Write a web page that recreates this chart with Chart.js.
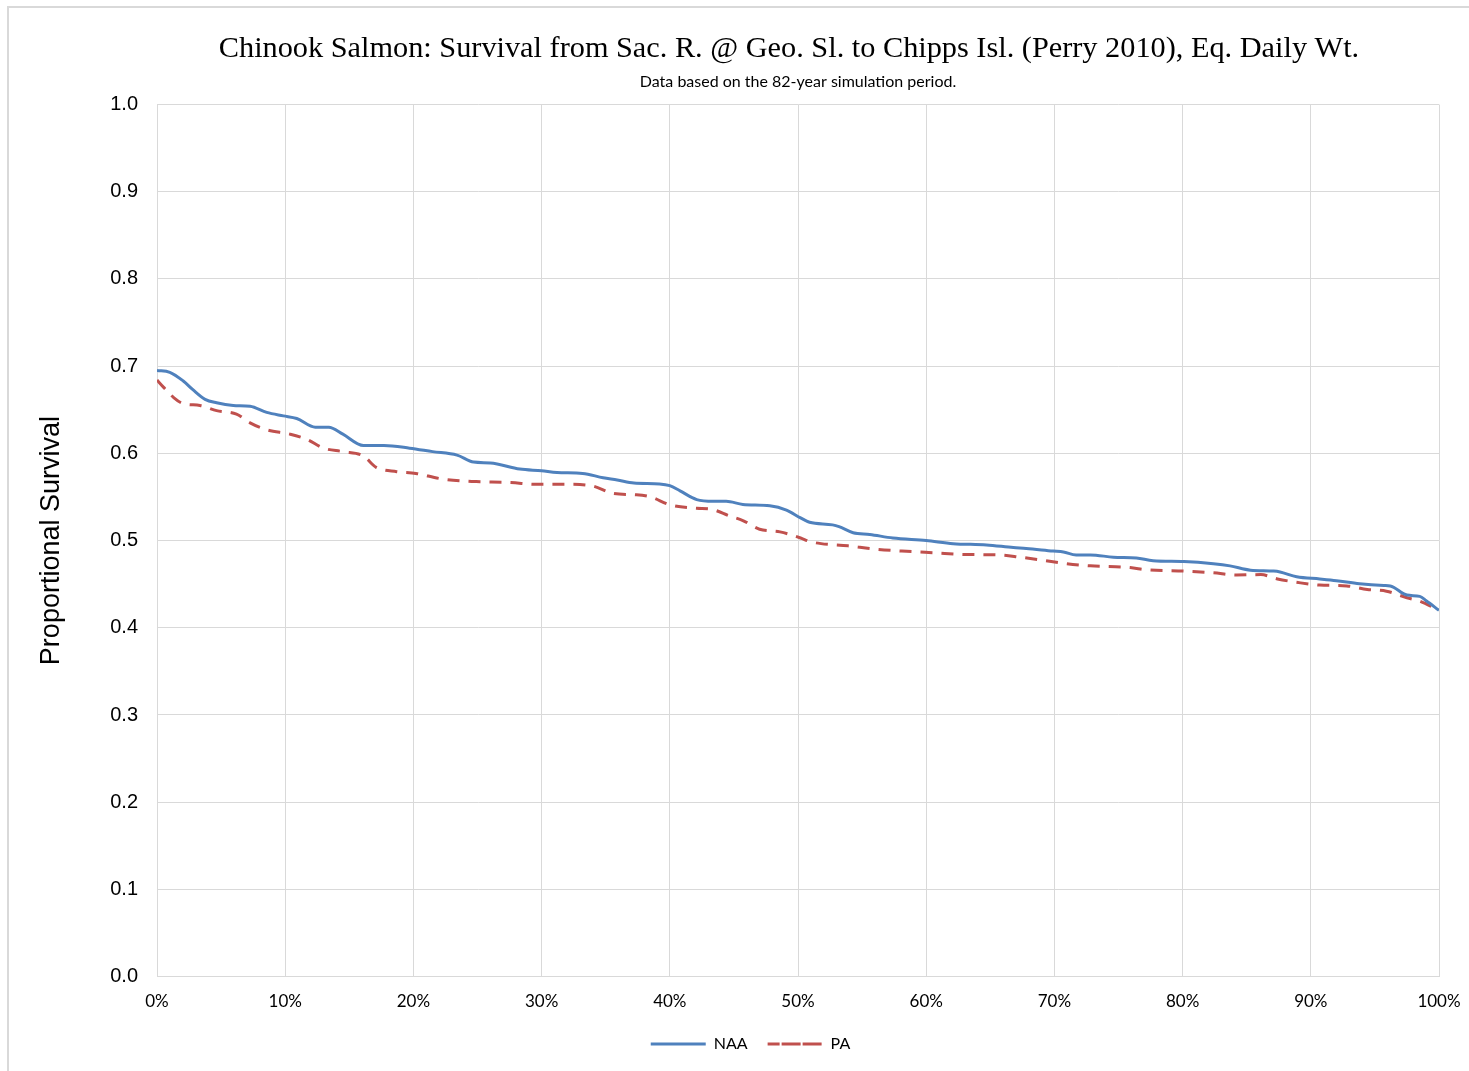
<!DOCTYPE html>
<html>
<head>
<meta charset="utf-8">
<script src="https://cdn.jsdelivr.net/npm/chart.js@4.4.1/dist/chart.umd.min.js"></script>
<style>
  html, body { margin: 0; padding: 0; background: #fff; }
  #wrap { width: 1469px; height: 1071px; }
</style>
</head>
<body>
<div id="wrap"><canvas id="c" width="1469" height="1071"></canvas></div>
<script>
const titleText = "Chinook Salmon: Survival from Sac. R. @ Geo. Sl. to Chipps Isl. (Perry 2010), Eq. Daily Wt.";
const subtitleText = "Data based on the 82-year simulation period.";
const seriesNames = ["NAA", "PA"];
const yAxisTitle = "Proportional Survival";
const xTicks = [0, 10, 20, 30, 40, 50, 60, 70, 80, 90, 100];
const yTicks = [0.0, 0.1, 0.2, 0.3, 0.4, 0.5, 0.6, 0.7, 0.8, 0.9, 1.0];

// exceedance probability (%) and survival
const naaX = [0, 1.0, 2.05, 2.8, 3.75, 4.65, 5.95, 7.26, 8.56, 9.86, 10.9, 12.35, 13.4, 14.5, 16.1, 17.7, 19.7, 21.5, 23.4, 24.7, 26.0, 28.3, 30.0, 31.2, 33.2, 34.8, 35.9, 37.2, 39.2, 40.0, 40.8, 42.1, 43.4, 44.4, 45.7, 47.8, 49.1, 50.2, 50.9, 52.7, 53.2, 54.3, 55.6, 57.4, 60.0, 62.1, 64.7, 66.8, 67.8, 69.9, 70.7, 71.7, 72.8, 74.6, 76.4, 77.7, 80.1, 82.4, 83.7, 85.3, 87.1, 87.6, 88.9, 90.7, 92.0, 93.8, 95.7, 96.2, 97.5, 98.5, 99.0, 100];
const naaY = [0.695, 0.693, 0.683, 0.673, 0.662, 0.658, 0.655, 0.654, 0.647, 0.643, 0.640, 0.630, 0.630, 0.622, 0.609, 0.609, 0.606, 0.602, 0.598, 0.590, 0.589, 0.582, 0.580, 0.578, 0.577, 0.572, 0.5695, 0.566, 0.565, 0.563, 0.557, 0.547, 0.545, 0.545, 0.5415, 0.540, 0.535, 0.526, 0.521, 0.518, 0.516, 0.509, 0.507, 0.503, 0.500, 0.4965, 0.495, 0.492, 0.491, 0.488, 0.487, 0.4835, 0.4835, 0.481, 0.480, 0.477, 0.476, 0.4735, 0.471, 0.466, 0.465, 0.464, 0.4585, 0.456, 0.454, 0.4505, 0.4485, 0.448, 0.4375, 0.436, 0.431, 0.420];

const paX = [0, 0.5, 1.3, 2.05, 3.35, 4.65, 6.2, 7.26, 8.56, 10.4, 11.7, 13.0, 14.5, 16.1, 17.1, 18.7, 20.2, 22.1, 24.2, 25.2, 27.6, 29.6, 32.2, 34.0, 35.6, 37.4, 38.5, 40.0, 42.1, 43.2, 44.7, 45.7, 47.0, 48.6, 50.2, 50.9, 51.8, 53.9, 55.8, 58.1, 60.6, 63.2, 65.8, 67.3, 69.1, 70.7, 72.8, 75.9, 77.2, 80.3, 82.4, 84.2, 86.1, 87.4, 89.2, 90.7, 92.8, 94.4, 95.9, 97.5, 98.5, 100];
const paY = [0.684, 0.676, 0.664, 0.657, 0.655, 0.649, 0.645, 0.635, 0.627, 0.622, 0.616, 0.606, 0.602, 0.597, 0.584, 0.579, 0.577, 0.571, 0.568, 0.5675, 0.5665, 0.5645, 0.5645, 0.5625, 0.554, 0.5525, 0.550, 0.541, 0.537, 0.536, 0.528, 0.523, 0.513, 0.510, 0.503, 0.499, 0.4965, 0.494, 0.4905, 0.488, 0.486, 0.484, 0.4835, 0.481, 0.4775, 0.474, 0.471, 0.469, 0.4665, 0.465, 0.463, 0.4605, 0.461, 0.456, 0.4515, 0.449, 0.448, 0.444, 0.442, 0.4345, 0.4305, 0.420];

const toPts = (xs, ys) => xs.map((x, i) => ({ x: x, y: ys[i] }));

const frame = {
  id: 'frame',
  afterLayout(chart) {
    const lg = chart.legend;
    if (lg) { lg.left += 31; lg.right += 31; lg.top -= 11; lg.bottom -= 11; }
    const tb = chart.titleBlock;
    if (tb) { tb.left -= 9; tb.right -= 9; }
  },
  beforeDraw(chart) {
    const ctx = chart.ctx;
    ctx.save();
    ctx.fillStyle = '#ffffff';
    ctx.fillRect(0, 0, chart.width, chart.height);
    ctx.strokeStyle = '#d9d9d9';
    ctx.lineWidth = 2;
    ctx.beginPath();
    ctx.moveTo(8, chart.height);
    ctx.lineTo(8, 7);
    ctx.lineTo(chart.width, 7);
    ctx.stroke();
    ctx.restore();
  }
};

new Chart(document.getElementById('c'), {
  type: 'line',
  data: {
    datasets: [
      {
        label: seriesNames[0],
        data: toPts(naaX, naaY),
        borderColor: '#4F81BD',
        backgroundColor: 'transparent',
        borderWidth: 3,
        pointRadius: 0,
        cubicInterpolationMode: 'monotone',
        fill: false
      },
      {
        label: seriesNames[1],
        data: toPts(paX, paY),
        borderColor: '#C0504D',
        backgroundColor: 'transparent',
        borderWidth: 3,
        borderDash: [12, 9],
        pointRadius: 0,
        cubicInterpolationMode: 'monotone',
        fill: false
      }
    ]
  },
  options: {
    responsive: false,
    devicePixelRatio: 1,
    animation: false,
    layout: { padding: { left: 0, right: 30, top: 0, bottom: -2 } },
    plugins: {
      title: {
        display: true,
        text: titleText,
        fullSize: false,
        color: '#000',
        font: { family: '"Liberation Serif", "Times New Roman", serif', size: 30.3, weight: 'normal' },
        padding: { top: 31, bottom: 0 }
      },
      subtitle: {
        display: true,
        text: subtitleText,
        fullSize: false,
        color: '#000',
        font: { family: 'Lato, "Open Sans", sans-serif', size: 16, weight: 'normal' },
        padding: { top: 5, bottom: 13 }
      },
      legend: {
        position: 'bottom',
        labels: {
          color: '#000',
          font: { family: 'Lato, "Open Sans", sans-serif', size: 16 },
          boxWidth: 55,
          boxHeight: 0,
          padding: 20
        }
      },
      tooltip: { enabled: false }
    },
    scales: {
      x: {
        type: 'linear',
        min: 0,
        max: 100,
        afterBuildTicks(scale) { scale.ticks = xTicks.map(v => ({ value: v })); },
        afterFit(scale) { scale.paddingLeft = 0; scale.paddingRight = 0; },
        ticks: {
          color: '#000',
          font: { family: 'Lato, "Open Sans", sans-serif', size: 17 },
          padding: 15,
          maxRotation: 0,
          callback: v => v + '%'
        },
        grid: { color: '#d9d9d9', lineWidth: 1, drawTicks: false },
        border: { color: '#d9d9d9' }
      },
      y: {
        min: 0,
        max: 1,
        afterBuildTicks(scale) { scale.ticks = yTicks.map(v => ({ value: v })); },
        afterFit(scale) { scale.width = 157; },
        ticks: {
          color: '#000',
          font: { family: '"Liberation Sans", Arial, sans-serif', size: 20 },
          padding: 19,
          callback: v => Number(v).toFixed(1)
        },
        grid: { color: '#d9d9d9', lineWidth: 1, drawTicks: false },
        border: { color: '#d9d9d9' },
        title: {
          display: true,
          text: yAxisTitle,
          color: '#000',
          font: { family: '"Liberation Sans", Arial, sans-serif', size: 27 },
          padding: { top: 35, bottom: 0 }
        }
      }
    }
  },
  plugins: [frame]
});
</script>
</body>
</html>
